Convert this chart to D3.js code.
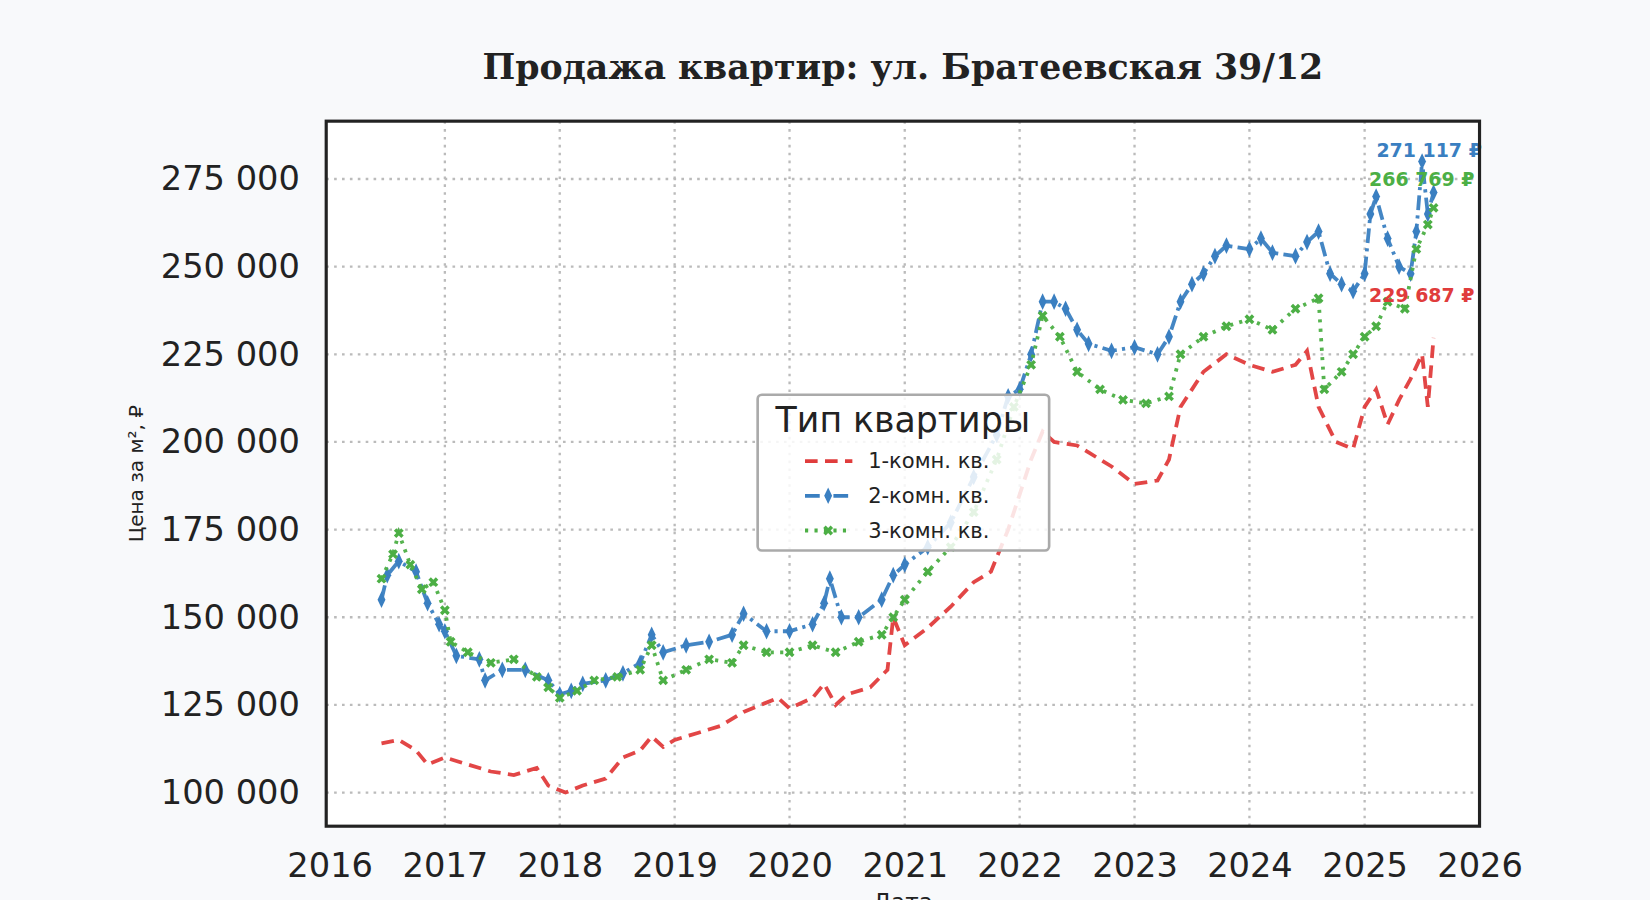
<!DOCTYPE html>
<html><head><meta charset="utf-8">
<script src="https://cdn.jsdelivr.net/npm/d3@7"></script>
<style>body{margin:0;background:#f8f9fb}</style>
</head><body>
<svg id="chart" width="1650" height="900" viewBox="0 0 1568 855"></svg>
<script>
// data (decimal years, price in thousands ₽)
const t1 = [2016.45,2016.6,2016.75,2016.85,2017.0,2017.2,2017.4,2017.6,2017.8,2017.9,2018.05,2018.2,2018.4,2018.55,2018.7,2018.8,2018.9,2019.0,2019.2,2019.4,2019.6,2019.75,2019.9,2020.0,2020.2,2020.3,2020.4,2020.5,2020.7,2020.85,2020.9,2021.0,2021.2,2021.4,2021.6,2021.75,2021.9,2022.0,2022.1,2022.2,2022.3,2022.5,2022.6,2022.8,2023.0,2023.2,2023.3,2023.4,2023.6,2023.8,2024.0,2024.2,2024.4,2024.5,2024.6,2024.75,2024.9,2025.0,2025.1,2025.2,2025.3,2025.4,2025.5,2025.55,2025.6];
const v1 = [114,115,112,108,110,108,106,105,107,102,100,102,104,110,112,116,113,115,117,119,123,125,127,124,127,131,125,128,130,135,150,142,147,153,160,163,175,185,195,203,200,199,197,193,188,189,195,210,220,225,222,220,222,226,210,200,198,210,215,205,212,218,225,210,229.687];
const t2 = [2016.45,2016.5,2016.6,2016.75,2016.85,2016.95,2017.0,2017.1,2017.3,2017.35,2017.5,2017.7,2017.9,2018.0,2018.1,2018.2,2018.4,2018.55,2018.7,2018.8,2018.9,2019.1,2019.3,2019.5,2019.6,2019.8,2020.0,2020.2,2020.3,2020.35,2020.45,2020.6,2020.8,2020.9,2021.0,2021.2,2021.4,2021.6,2021.8,2021.9,2022.0,2022.1,2022.2,2022.3,2022.4,2022.5,2022.6,2022.8,2023.0,2023.2,2023.3,2023.4,2023.5,2023.6,2023.7,2023.8,2024.0,2024.1,2024.2,2024.4,2024.5,2024.6,2024.7,2024.8,2024.9,2025.0,2025.05,2025.1,2025.2,2025.3,2025.4,2025.45,2025.5,2025.55,2025.6];
const v2 = [155,162,166,163,154,148,146,139,138,132,135,135,132,128,129,131,132,134,137,145,140,142,143,145,151,146,146,148,154,161,150,150,155,162,165,170,177,190,202,213,215,225,240,240,238,232,228,226,227,225,230,240,245,248,253,256,255,258,254,253,257,260,248,245,243,248,265,270,258,250,248,260,280,265,271.117];
const t3 = [2016.45,2016.55,2016.6,2016.7,2016.8,2016.9,2017.0,2017.05,2017.2,2017.4,2017.6,2017.8,2017.9,2018.0,2018.15,2018.3,2018.5,2018.7,2018.8,2018.9,2019.1,2019.3,2019.5,2019.6,2019.8,2020.0,2020.2,2020.4,2020.6,2020.8,2020.9,2021.0,2021.2,2021.4,2021.6,2021.8,2021.95,2022.1,2022.2,2022.35,2022.5,2022.7,2022.9,2023.1,2023.3,2023.4,2023.6,2023.8,2024.0,2024.2,2024.4,2024.6,2024.65,2024.8,2024.9,2025.0,2025.1,2025.2,2025.35,2025.45,2025.55,2025.6];
const v3 = [161,168,174,165,158,160,152,143,140,137,138,133,130,127,129,132,133,135,142,132,135,138,137,142,140,140,142,140,143,145,150,155,163,170,180,195,210,222,236,230,220,215,212,211,213,225,230,233,235,232,238,241,215,220,225,230,233,240,238,255,262,266.769];
const seriesNames = ["1-комн. кв.","2-комн. кв.","3-комн. кв."];
const colors = ["#e03c3c","#3a7fc1","#4caf45"];
const yTicks = [100,125,150,175,200,225,250,275];
const xTicks = [2016,2017,2018,2019,2020,2021,2022,2023,2024,2025,2026];

const toDate = y => { const yr = Math.floor(y); const s = new Date(yr,0,1), e = new Date(yr+1,0,1); return new Date(+s + (y-yr)*(e-s)); };
const svg = d3.select("#chart");
const L = 310, R = 1406, T = 115, B = 785;
const x = d3.scaleTime().domain([toDate(2015.97), toDate(2026)]).range([L, R]);
const y = d3.scaleLinear().domain([90.4, 291.5]).range([B, T]);

svg.append("rect").attr("x",L).attr("y",T).attr("width",R-L).attr("height",B-T).attr("fill","#fff");
// grid
svg.append("g").selectAll("line").data(yTicks).join("line")
  .attr("x1",L).attr("x2",R).attr("y1",d=>y(d)).attr("y2",d=>y(d))
  .attr("stroke","#bbb").attr("stroke-width",2.2).attr("stroke-dasharray","2.5,5");
svg.append("g").selectAll("line").data(xTicks.slice(1,-1)).join("line")
  .attr("y1",T).attr("y2",B).attr("x1",d=>x(toDate(d))).attr("x2",d=>x(toDate(d)))
  .attr("stroke","#bbb").attr("stroke-width",2.2).attr("stroke-dasharray","2.5,5");

const fmt = v => d3.format(",.0f")(v*1000).replace(/,/g," ");
const ya = svg.append("g").attr("transform",`translate(${L},0)`)
  .call(d3.axisLeft(y).tickValues(yTicks).tickFormat(fmt).tickSize(0).tickPadding(25));
const xa = svg.append("g").attr("transform",`translate(0,${B})`)
  .call(d3.axisBottom(x).tickValues(xTicks.map(toDate)).tickFormat(d3.timeFormat("%Y")).tickSize(0).tickPadding(26));
[ya,xa].forEach(a=>{a.select(".domain").remove();
  a.selectAll("text").attr("font-family","DejaVu Sans").attr("font-size",32).attr("fill","#222");});

const series = [[t1,v1],[t2,v2],[t3,v3]];
const dashes = ["12,7","14,5,3,5","3,6"];
const labelOff = [12, 12, 8];
const labelX = [1301, 1308, 1301];
const line = d3.line().x(d=>x(toDate(d[0]))).y(d=>y(d[1]));
const plot = svg.append("g");
series.forEach(([t,v],i)=>{
  const pts = t.map((d,j)=>[d,v[j]]);
  plot.append("path").datum(pts).attr("d",line).attr("fill","none")
    .attr("stroke",colors[i]).attr("stroke-width",3.6).attr("stroke-dasharray",dashes[i]).attr("opacity",0.95);
  if (i===1) plot.selectAll(null).data(pts).join("path")
    .attr("d",d3.symbol(d3.symbolDiamond,60))
    .attr("transform",d=>`translate(${x(toDate(d[0]))},${y(d[1])}) scale(0.9,1.1)`).attr("fill",colors[i]);
  if (i===2) plot.selectAll(null).data(pts).join("path")
    .attr("d",d3.symbol(d3.symbolCross,55))
    .attr("transform",d=>`translate(${x(toDate(d[0]))},${y(d[1])}) rotate(45)`).attr("fill",colors[i]);
  const last = pts[pts.length-1];
  svg.append("text").attr("x",labelX[i]).attr("y",y(last[1]+labelOff[i])+6)
    .attr("font-family","DejaVu Sans").attr("font-weight","bold").attr("font-size",18)
    .attr("fill",colors[i]).text(fmt(last[1])+" ₽");
});

svg.append("rect").attr("x",L).attr("y",T).attr("width",R-L).attr("height",B-T)
  .attr("fill","none").attr("stroke","#222").attr("stroke-width",3);

// legend
const lg = svg.append("g").attr("transform","translate(720,375)");
lg.append("rect").attr("width",277).attr("height",148).attr("rx",4)
  .attr("fill","#fff").attr("fill-opacity",0.85).attr("stroke","#aaa").attr("stroke-width",2.5);
lg.append("text").attr("x",138).attr("y",35).attr("text-anchor","middle")
  .attr("font-family","DejaVu Sans").attr("font-size",33).attr("fill","#222").text("Тип квартиры");
seriesNames.forEach((n,i)=>{
  const yy = 63 + i*33;
  lg.append("line").attr("x1",45).attr("x2",90).attr("y1",yy).attr("y2",yy)
    .attr("stroke",colors[i]).attr("stroke-width",3.6).attr("stroke-dasharray",dashes[i]);
  if (i===1) lg.append("path").attr("d",d3.symbol(d3.symbolDiamond,60)).attr("transform",`translate(67,${yy}) scale(0.9,1.1)`).attr("fill",colors[i]);
  if (i===2) lg.append("path").attr("d",d3.symbol(d3.symbolCross,55)).attr("transform",`translate(67,${yy}) rotate(45)`).attr("fill",colors[i]);
  lg.append("text").attr("x",105).attr("y",yy+7).attr("font-family","DejaVu Sans").attr("font-size",20)
    .attr("fill","#222").text(n);
});

svg.append("text").attr("x",858).attr("y",75).attr("text-anchor","middle")
  .attr("font-family","DejaVu Serif").attr("font-weight","bold").attr("font-size",33).attr("fill","#222")
  .text("Продажа квартир: ул. Братеевская 39/12");
svg.append("text").attr("transform","translate(136,450) rotate(-90)").attr("text-anchor","middle")
  .attr("font-family","DejaVu Sans").attr("font-size",19).attr("fill","#222").text("Цена за м², ₽");
svg.append("text").attr("x",858).attr("y",865).attr("text-anchor","middle")
  .attr("font-family","DejaVu Sans").attr("font-size",22).attr("fill","#222").text("Дата");
</script>
</body></html>
